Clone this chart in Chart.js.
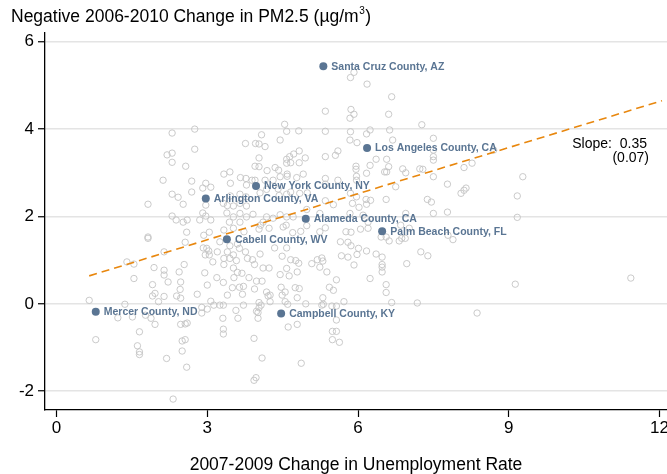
<!DOCTYPE html>
<html>
<head>
<meta charset="utf-8">
<script src="https://cdn.jsdelivr.net/npm/chart.js@4.4.0/dist/chart.umd.min.js"></script>
<style>
  html, body { margin: 0; padding: 0; background: #fff; overflow: hidden; }
  canvas { display: block; }
</style>
</head>
<body>
<canvas id="myChart" width="667" height="474"></canvas>
<script>
// county points: 2007-2009 change in unemployment (x) and negative PM2.5 change (y)
const unempChange = [
  2.30,2.75,2.75,2.20,2.30,2.30,2.57,2.12,2.69,2.97,
  3.07,2.91,2.69,2.30,2.42,2.52,1.82,2.97,2.91,2.97,
  2.30,2.38,2.52,2.60,2.85,3.07,
  1.82,1.82,2.59,2.56,2.93,3.04,2.92,2.99,3.03,2.96,
  3.04,3.20,2.14,1.40,1.54,1.94,2.14,2.14,2.22,2.44,
  2.54,1.54,2.95,3.11,3.19,2.47,3.00,1.91,2.46,2.80,
  1.91,1.96,2.14,2.39,2.47,2.03,0.65,1.36,3.07,3.13,
  2.89,3.00,2.89,1.22,1.51,1.77,1.88,1.96,2.47,2.56,
  2.60,1.65,0.78,2.50,2.56,1.61,1.65,1.65,2.50,2.19,
  2.59,2.32,
  5.92,5.85,6.18,5.35,5.86,5.92,5.84,4.54,4.58,4.82,
  4.08,4.45,5.35,5.85,5.84,5.98,6.17,3.76,3.96,4.03,
  4.15,4.83,4.72,4.64,4.58,4.95,4.83,4.66,4.58,4.03,
  5.35,5.55,5.60,3.95,4.03,4.19,4.35,4.42,3.33,3.45,
  3.46,3.66,3.77,3.78,3.89,3.95,4.15,4.31,4.59,4.59,
  4.78,4.91,4.45,5.35,5.35,5.60,5.96,5.96,5.97,5.97,
  6.17,4.05,4.18,4.41,4.43,4.58,4.66,4.84,4.99,3.46,
  3.65,3.77,3.32,3.40,3.52,3.65,3.78,5.85,5.97,6.16,
  6.17,6.02,5.89,5.51,5.35,3.39,3.52,3.65,3.78,3.91,
  4.18,4.31,4.45,4.58,4.71,4.98,5.24,5.84,6.10,6.20,
  4.11,3.44,3.65,
  6.67,6.61,7.27,6.24,6.63,7.50,6.69,7.50,7.50,7.50,
  6.36,6.57,6.24,6.61,6.53,6.57,6.89,6.95,7.23,7.29,
  7.50,8.11,8.27,8.70,6.75,7.78,8.15,8.11,8.05,9.28,
  6.25,6.56,7.38,7.46,9.17,7.50,7.78,9.17,6.95,
  3.33,3.52,3.73,4.03,4.06,4.23,4.51,4.57,4.70,4.86,
  4.98,5.24,5.35,5.76,5.86,6.05,6.20,3.25,3.45,3.60,
  3.64,3.76,3.40,3.52,3.33,3.45,3.58,3.80,3.90,4.05,
  3.94,4.11,4.23,4.34,4.49,4.58,4.66,4.76,4.82,4.58,
  5.08,5.19,5.28,5.30,5.24,5.38,5.65,5.80,5.86,5.67,
  5.80,5.98,6.01,6.17,5.92,3.33,3.52,3.60,3.69,3.83,
  3.98,4.09,4.45,4.63,4.79,3.32,3.53,3.64,3.50,3.72,
  3.94,3.40,3.70,4.18,4.21,4.25,4.47,4.49,4.55,4.75,
  4.83,4.79,4.55,4.60,4.25,4.03,4.07,5.30,5.28,5.31,
  5.43,5.51,5.57,5.48,5.57,5.72,4.96,3.25,3.32,3.57,
  3.72,3.98,4.03,4.01,3.31,3.61,4.01,3.32,3.32,4.61,
  4.79,5.57,5.49,5.57,5.49,5.63,3.93,4.09,4.87,3.97,
  3.93,
  6.46,6.56,6.62,6.82,6.87,6.94,7.02,6.85,7.79,7.89,
  6.36,6.48,6.48,6.48,6.48,6.24,6.97,7.25,7.39,6.56,
  6.56,6.67,7.18,9.13,8.37,11.43
];
const pmChange = [
  3.91,4.00,3.54,3.41,3.45,3.24,3.15,2.83,2.81,2.76,
  2.67,2.65,2.56,2.51,2.44,2.28,2.28,2.26,2.08,2.01,
  2.01,1.92,1.87,1.92,1.92,1.92,
  1.53,1.50,1.64,1.41,1.57,1.64,1.28,1.27,1.21,1.12,
  1.12,1.19,1.19,0.96,0.91,0.83,0.77,0.66,0.50,0.73,
  0.90,0.58,0.71,0.96,0.60,0.50,0.43,0.44,0.33,0.22,
  0.18,0.24,0.17,0.18,0.13,0.05,0.08,-0.01,0.06,-0.03,
  -0.08,-0.12,-0.21,-0.32,-0.30,-0.26,-0.33,-0.47,-0.47,-0.46,
  -0.44,-0.64,-0.82,-0.85,-0.82,-0.96,-1.10,-1.16,-1.08,-1.25,
  -1.45,-2.18,
  5.30,5.18,5.03,4.41,4.45,4.34,4.25,4.11,3.95,3.96,
  3.87,3.75,3.95,3.94,3.75,3.69,3.89,3.67,3.67,3.66,
  3.60,3.50,3.43,3.37,3.31,3.34,3.23,3.23,3.22,3.34,
  3.37,3.40,3.50,3.15,3.14,3.05,3.12,3.06,2.97,3.02,
  2.76,2.89,2.87,2.72,2.83,2.83,2.83,2.83,2.97,2.92,
  2.89,2.97,2.91,2.87,2.74,2.83,3.15,3.08,2.92,2.83,
  2.99,2.54,2.62,2.63,2.48,2.51,2.56,2.53,2.54,2.47,
  2.51,2.45,2.30,2.25,2.24,2.30,2.24,2.53,2.45,2.39,
  2.28,2.21,2.30,2.27,2.36,2.08,1.99,2.07,1.99,2.05,
  1.99,1.96,2.04,1.99,1.99,2.16,2.07,2.07,2.03,1.87,
  1.87,1.87,1.87,
  4.74,4.34,4.10,3.98,3.98,3.79,3.75,3.52,3.37,3.29,
  3.31,3.31,3.17,3.14,3.02,3.02,3.09,3.00,3.09,3.08,
  2.91,3.12,3.22,3.52,2.68,2.74,2.65,2.60,2.53,2.91,
  2.37,2.39,2.39,2.33,2.47,2.07,2.10,1.98,2.07,
  1.69,1.73,1.65,1.71,1.80,1.73,1.76,1.80,1.63,1.66,
  1.79,1.65,1.74,1.65,1.64,1.71,1.73,1.42,1.33,1.37,
  1.27,1.19,1.19,1.12,1.04,1.04,0.99,1.04,1.01,1.14,
  0.90,0.82,0.82,1.28,1.09,1.28,1.01,0.99,0.93,0.81,
  0.92,1.01,1.05,0.98,0.84,0.73,1.42,1.41,1.33,1.10,
  1.07,1.13,1.27,1.21,0.89,0.90,0.82,0.72,0.70,0.60,
  0.52,0.52,0.67,0.64,0.73,0.49,0.60,0.38,0.37,0.40,
  0.34,0.20,0.22,0.27,0.18,0.20,0.38,0.20,0.27,0.37,
  0.35,0.14,0.05,-0.01,0.05,0.03,-0.03,0.14,-0.03,-0.01,
  0.38,0.31,0.55,-0.05,-0.05,0.05,0.00,-0.03,-0.03,-0.15,
  -0.03,-0.17,-0.09,-0.20,-0.33,-0.33,-0.33,-0.58,-0.69,-0.53,
  -0.47,-0.37,-0.63,-0.63,-0.82,-0.88,-0.79,-1.24,-1.36,-1.69,
  -1.75,
  1.53,1.53,1.44,1.44,1.50,1.50,1.73,1.80,1.57,1.47,
  1.14,1.07,0.90,0.84,0.73,0.58,0.92,1.19,1.10,0.44,
  0.26,0.03,0.02,0.45,-0.21,0.59
];

// highlighted counties
const labelNames = ['Santa Cruz County, AZ', 'Los Angeles County, CA', 'New York County, NY',
  'Arlington County, VA', 'Alameda County, CA', 'Palm Beach County, FL',
  'Cabell County, WV', 'Mercer County, ND', 'Campbell County, KY'];
const labelX = [5.31, 6.18, 3.97, 2.97, 4.96, 6.48, 3.39, 0.78, 4.47];
const labelY = [5.44, 3.57, 2.70, 2.41, 1.95, 1.66, 1.48, -0.18, -0.22];

// fitted line ends
const fitX = [0.65, 12.05];
const fitY = [0.64, 4.65];

const xTicks = [0, 3, 6, 9, 12];
const yTicks = [-2, 0, 2, 4, 6];

const FONT = "'Liberation Sans', Arial, sans-serif";
const navy = '#5a7593';
const orange = '#e8870e';

var grayPts = [];
for (var i = 0; i < unempChange.length; i++) {
  grayPts.push({x: unempChange[i], y: pmChange[i]});
}
var namedPts = labelX.map((v, i) => ({x: v, y: labelY[i]}));
var fitPts = fitX.map((v, i) => ({x: v, y: fitY[i]}));

const whiteBg = {
  id: 'whiteBg',
  beforeDraw(chart) {
    const c = chart.ctx;
    c.save();
    c.fillStyle = '#fff';
    c.fillRect(0, 0, chart.width, chart.height);
    c.restore();
  }
};

const texts = {
  id: 'texts',
  afterDatasetsDraw(chart) {
    const c = chart.ctx;
    const xs = chart.scales.x, ys = chart.scales.y;
    c.save();
    // point labels
    c.font = 'bold 10.5px ' + FONT;
    c.fillStyle = navy;
    c.textBaseline = 'middle';
    c.textAlign = 'left';
    for (var i = 0; i < labelNames.length; i++) {
      c.fillText(labelNames[i], xs.getPixelForValue(labelX[i]) + 8, ys.getPixelForValue(labelY[i]) + 0.5);
    }
    // slope note
    c.fillStyle = '#000';
    c.font = '14px ' + FONT;
    c.textAlign = 'right';
    c.fillText('Slope:  0.35', 647, 144);
    c.fillText('(0.07)', 649, 158);
    // y axis title with superscript
    c.textAlign = 'left';
    c.font = '17.5px ' + FONT;
    const t1 = 'Negative 2006-2010 Change in PM2.5 (\u00b5g/m';
    let x0 = 11;
    c.fillText(t1, x0, 17);
    x0 += c.measureText(t1).width;
    c.font = '10px ' + FONT;
    c.fillText('3', x0 + 0.5, 11);
    x0 += c.measureText('3').width + 1;
    c.font = '17.5px ' + FONT;
    c.fillText(')', x0, 17);
    c.restore();
  }
};

var ctx = document.getElementById('myChart').getContext('2d');
var myChart = new Chart(ctx, {
  type: 'scatter',
  data: {
    datasets: [{
      label: 'Named counties',
      data: namedPts,
      order: 0,
      pointRadius: 4,
      pointBackgroundColor: navy,
      pointBorderColor: navy,
      pointBorderWidth: 0
    }, {
      label: 'Fit',
      data: fitPts,
      order: 1,
      showLine: true,
      borderColor: orange,
      borderWidth: 1.6,
      borderDash: [8, 5],
      pointRadius: 0
    }, {
      label: 'Counties',
      data: grayPts,
      order: 2,
      pointRadius: 3.2,
      pointBackgroundColor: 'rgba(255,255,255,0)',
      pointBorderColor: '#c4c4c4',
      pointBorderWidth: 0.9
    }]
  },
  options: {
    responsive: false,
    animation: false,
    devicePixelRatio: 1,
    events: [],
    layout: { autoPadding: false, padding: { top: 33, left: 0, right: 0, bottom: 0 } },
    plugins: {
      legend: { display: false },
      tooltip: { enabled: false }
    },
    scales: {
      x: {
        type: 'linear',
        min: -0.23,
        max: 12.15,
        afterBuildTicks: function(s) { s.ticks = xTicks.map(v => ({value: v})); },
        afterFit: function(s) { s.height = 64; s.paddingLeft = 0; s.paddingRight = 0; },
        grid: { drawOnChartArea: false, tickLength: 7, tickColor: '#000', tickWidth: 1.2 },
        border: { color: '#000', width: 1.3 },
        ticks: { color: '#000', font: { family: FONT, size: 17 }, padding: 1, maxRotation: 0, autoSkip: false },
        title: {
          display: true,
          text: '2007-2009 Change in Unemployment Rate',
          color: '#000',
          font: { family: FONT, size: 17.5, lineHeight: 1 },
          padding: { top: 0, bottom: 0 }
        }
      },
      y: {
        type: 'linear',
        min: -2.43,
        max: 6.2,
        afterBuildTicks: function(s) { s.ticks = yTicks.map(v => ({value: v})); },
        afterFit: function(s) { s.width = 45; s.paddingTop = 0; s.paddingBottom = 0; },
        grid: { color: '#e4e4e4', lineWidth: 1.5, tickLength: 7, tickColor: '#000', tickWidth: 1.2 },
        border: { color: '#000', width: 1.3 },
        ticks: { color: '#000', font: { family: FONT, size: 17 }, padding: 4 }
      }
    }
  },
  plugins: [whiteBg, texts]
});
</script>
</body>
</html>
